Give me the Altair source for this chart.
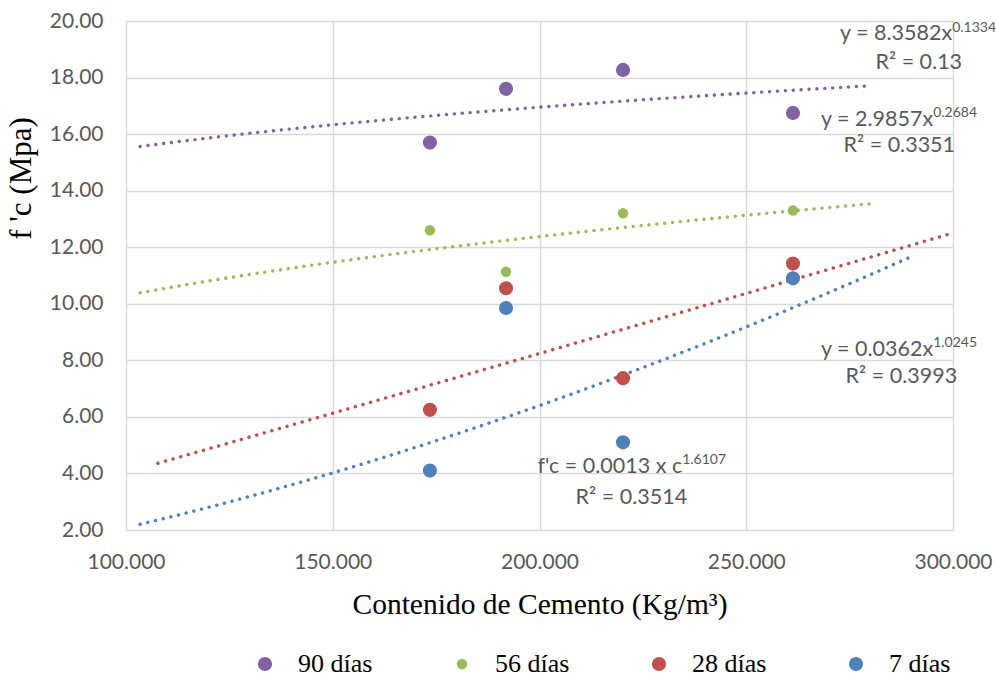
import altair as alt
import pandas as pd

# ---------------- data ----------------
cement = [173.5, 191.9, 220.2, 261.3]
series_names = ["90 días", "56 días", "28 días", "7 días"]
fc_90 = [15.70, 17.60, 18.27, 16.75]
fc_56 = [12.60, 11.13, 13.20, 13.30]
fc_28 = [6.25, 10.55, 7.37, 11.42]
fc_7 = [4.10, 9.85, 5.10, 10.90]

# x-range covered by each (power) trendline
trend_start = [103.4, 103.4, 107.7, 103.4]
trend_end = [280.0, 280.0, 300.0, 290.3]

# trendline labels
eq_main = ["y = 8.3582x", "y = 2.9857x", "y = 0.0362x", "f'c = 0.0013 x c"]
eq_power = ["0.1334", "0.2684", "1.0245", "1.6107"]
eq_r2 = ["R² = 0.13", "R² = 0.3351", "R² = 0.3993", "R² = 0.3514"]

# ---------------- styles / layout ----------------
colors = ["#8064A2", "#9BBB59", "#C0504D", "#4F81BD"]
marker_sizes = [200, 110, 200, 200]

# label anchors (in data units)
eq_x = [299.8, 295.2, 295.2, 234.5]
eq_y = [19.33, 16.29, 8.15, 4.02]
pow_y = [19.61, 16.61, 8.47, 4.33]
r2_x = [302.2, 300.5, 301.0, 235.7]
r2_y = [18.30, 15.37, 7.20, 2.92]

TEXT_GRAY = "#595959"
SANS = "Lato"
SERIF = "Liberation Serif"

rows = []
for name, vals in zip(series_names, [fc_90, fc_56, fc_28, fc_7]):
    for c, v in zip(cement, vals):
        rows.append({"series": name, "cemento": c, "fc": v})
df = pd.DataFrame(rows)

x_scale = alt.Scale(domain=[100, 300], nice=False, zero=False)
y_scale = alt.Scale(domain=[2, 20], nice=False, zero=False)

x_axis = alt.Axis(
    values=[100, 150, 200, 250, 300], format=".3f",
    labelFont=SANS, labelFontSize=21, labelColor=TEXT_GRAY,
    labelPadding=21, ticks=False, tickSize=0, domain=False,
    labelFlush=False, labelOverlap=False, labelBound=False,
    grid=True, gridColor="#d9d9d9", gridWidth=1.5,
    titleFont=SERIF, titleFontSize=29.5, titleFontWeight="normal", titleColor="black",
    titleY=83, titleBaseline="alphabetic",
)
y_axis = alt.Axis(
    values=[2, 4, 6, 8, 10, 12, 14, 16, 18, 20], format=".2f",
    labelFont=SANS, labelFontSize=21, labelColor=TEXT_GRAY,
    labelPadding=23, ticks=False, tickSize=0, domain=False,
    labelFlush=False, labelOverlap=False, labelBound=False,
    grid=True, gridColor="#d9d9d9", gridWidth=1.5,
    titleFont=SERIF, titleFontSize=31, titleFontWeight="normal", titleColor="black",
    titleX=-96, titleY=157, titleAngle=-90, titleBaseline="alphabetic", titleAlign="center",
)

X = alt.X("cemento:Q", scale=x_scale, axis=x_axis, title="Contenido de Cemento (Kg/m³)")
Y = alt.Y("fc:Q", scale=y_scale, axis=y_axis, title="f 'c (Mpa)")

legend = alt.Legend(
    orient="none", legendX=126, legendY=630, direction="horizontal", title=None,
    labelFont=SERIF, labelFontSize=26, labelColor="black", symbolType="circle",
    labelOffset=20, columnPadding=76, symbolStrokeWidth=0, padding=0,
)

points = alt.Chart(df).mark_circle(opacity=1).encode(
    x=X, y=Y,
    color=alt.Color("series:N", scale=alt.Scale(domain=series_names, range=colors), legend=legend),
    size=alt.Size("series:N",
                  scale=alt.Scale(type="ordinal", domain=series_names, range=marker_sizes),
                  legend=legend),
)

layers = []
for name, col, a, b in zip(series_names, colors, trend_start, trend_end):
    t = (
        alt.Chart(df)
        .transform_filter(alt.datum.series == name)
        .transform_regression("cemento", "fc", method="pow", extent=[a, b])
        .mark_line(color=col, strokeWidth=3.4, strokeDash=[0.1, 7.8], strokeCap="round")
        .encode(x=X, y=Y)
    )
    layers.append(t)

ann_main = pd.DataFrame({"cemento": eq_x, "fc": eq_y, "txt": eq_main})
ann_pow = pd.DataFrame({"cemento": eq_x, "fc": pow_y, "txt": eq_power})
ann_r2 = pd.DataFrame({"cemento": r2_x, "fc": r2_y, "txt": eq_r2})

t_main = alt.Chart(ann_main).mark_text(
    align="right", baseline="alphabetic", font=SANS, fontSize=21.5, color=TEXT_GRAY
).encode(x=X, y=Y, text="txt:N")
t_pow = alt.Chart(ann_pow).mark_text(
    align="left", baseline="alphabetic", font=SANS, fontSize=14, color=TEXT_GRAY
).encode(x=X, y=Y, text="txt:N")
t_r2 = alt.Chart(ann_r2).mark_text(
    align="right", baseline="alphabetic", font=SANS, fontSize=21.5, color=TEXT_GRAY
).encode(x=X, y=Y, text="txt:N")

chart = alt.layer(*layers, points, t_main, t_pow, t_r2).properties(
    width=827, height=509,
    autosize=alt.AutoSizeParams(type="none"),
    padding={"left": 126, "top": 21, "right": 43, "bottom": 147},
    background="white",
).configure_view(stroke=None)

chart.save("out.html", embed_options={"renderer": "svg", "actions": False})
